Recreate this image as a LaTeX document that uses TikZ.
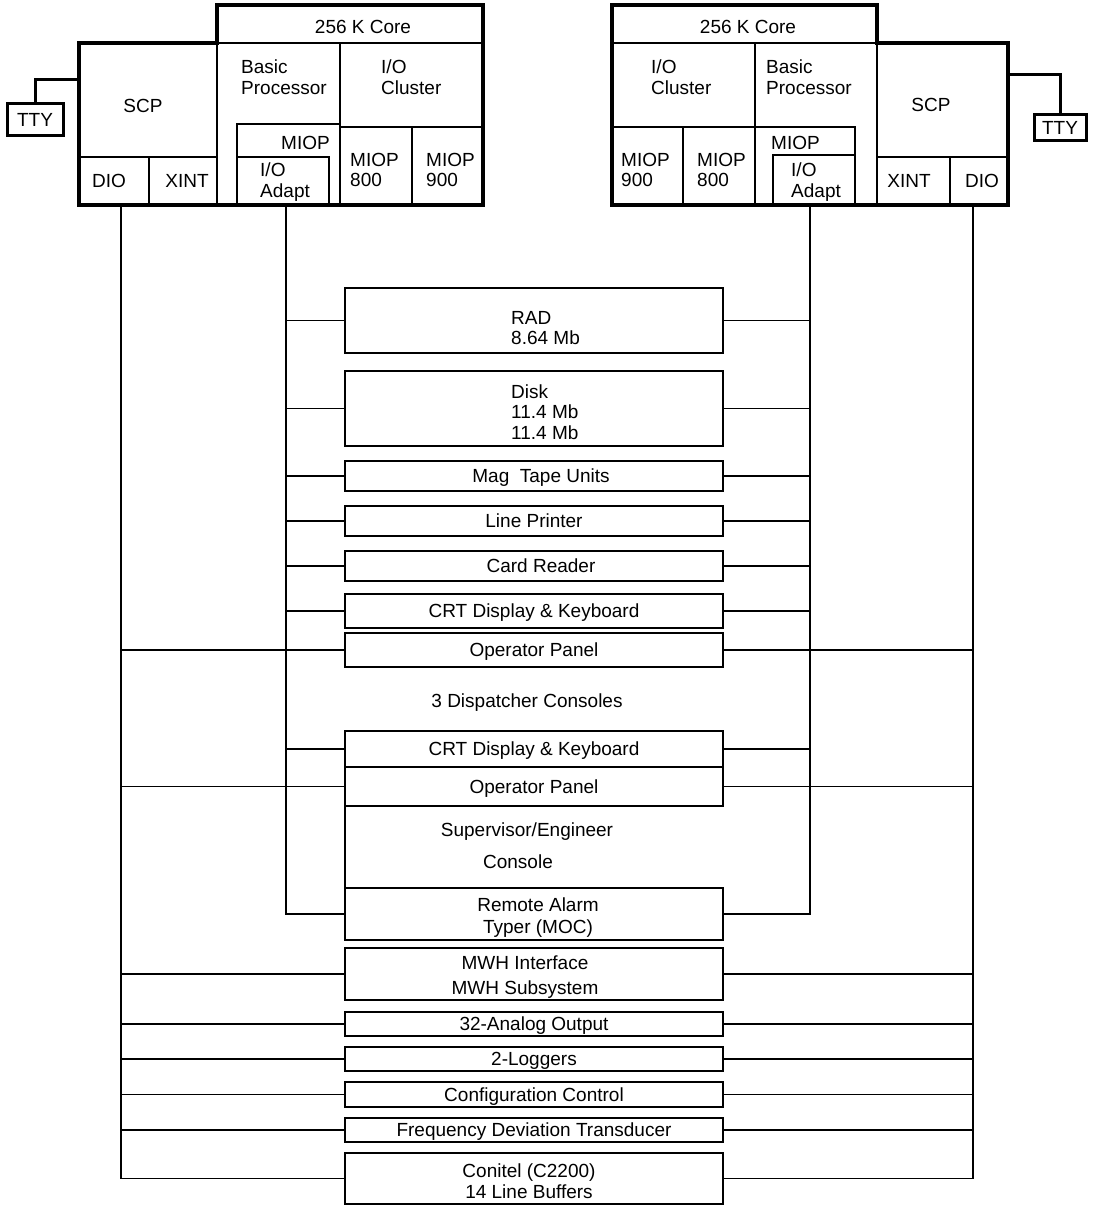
\documentclass[tikz,border=0pt]{standalone}
\usepackage{fontspec}
\setmainfont{Liberation Sans}
\newcommand\lblfont{\fontsize{19}{20.5}\selectfont}
\begin{document}
\begin{tikzpicture}[x=1pt,y=-1pt,
  cell/.style={draw, line width=2.2pt, inner sep=0pt, outer sep=0pt},
  ttybox/.style={draw, line width=3pt, inner sep=0pt, outer sep=0pt, font=\lblfont, text height=13.6pt, text depth=0pt},
  outline/.style={draw, line width=4pt, line join=miter},
  dev/.style={draw, line width=1.8pt, inner sep=0pt, outer sep=0pt, minimum width=378pt, font=\lblfont, align=center},
  one/.style={text height=17.6pt, text depth=4pt},
  devline/.style={line width=1.8pt},
  conn/.style={line width=1.6pt},
  lbl/.style={inner sep=0pt, font=\lblfont, align=left},
  clbl/.style={inner sep=0pt, font=\lblfont, align=center}]
\useasboundingbox (0,0) rectangle (1094,1206);

% ---------- left computer ----------
\node[cell, minimum width=266pt, minimum height=38pt] (lcore) at (350,24) {};
\node[cell, minimum width=138pt, minimum height=114pt] (lscp) at (148,100) {};
\node[cell, minimum width=70pt, minimum height=48pt] (ldio) at (114,181) {};
\node[cell, minimum width=68pt, minimum height=48pt] (lxint) at (183,181) {};
\node[cell, minimum width=143pt, minimum height=84pt] (lioc) at (411.5,85) {};
\node[cell, minimum width=103pt, minimum height=81pt] (lmiop) at (288.5,164.5) {};
\node[cell, minimum width=92pt, minimum height=48pt] (lioa) at (283,181) {};
\node[cell, minimum width=72pt, minimum height=78pt] (lm800) at (376,166) {};
\node[cell, minimum width=71pt, minimum height=78pt] (lm900) at (447.5,166) {};
\draw[outline] (lscp.north west) -- (lcore.south west) -- (lcore.north west) -- (lcore.north east)
  -- (lm900.south east) -- (ldio.south west) -- cycle;
\node[ttybox, minimum width=56pt, minimum height=32pt] (ltty) at (35,120) {TTY};
\coordinate (lttyc) at (79,80);
\draw[line width=3pt] (ltty.north) |- (lttyc);

\node[clbl] (tlcore) at (363,27) {256 K Core};
\node[clbl] (tlscp) at (143,106) {SCP};
\node[clbl] (tldio) at (109,181) {DIO};
\node[clbl] (tlxint) at (187,181) {XINT};
\node[lbl, anchor=west] (tlbp) at (241,77) {Basic\\Processor};
\node[lbl, anchor=west] (tlioc) at (381,77) {I/O\\Cluster};
\node[lbl, anchor=east] (tlmiop) at (330,143) {MIOP};
\node[lbl, anchor=west] (tlioa) at (260,182) {I/O\\Adapt};
\node[lbl, anchor=west] (tlm800) at (350,170) {MIOP\\800};
\node[lbl, anchor=west] (tlm900) at (426,170) {MIOP\\900};

% ---------- right computer ----------
\node[cell, minimum width=265pt, minimum height=38pt] (rcore) at (744.5,24) {};
\node[cell, minimum width=143pt, minimum height=84pt] (rioc) at (683.5,85) {};
\node[cell, minimum width=122pt, minimum height=162pt] (rbp) at (816,124) {};
\node[cell, minimum width=100pt, minimum height=78pt] (rmiop) at (805,166) {};
\node[cell, minimum width=82pt, minimum height=50pt] (rioa) at (814,180) {};
\node[cell, minimum width=71pt, minimum height=78pt] (rm900) at (647.5,166) {};
\node[cell, minimum width=72pt, minimum height=78pt] (rm800) at (719,166) {};
\node[cell, minimum width=131pt, minimum height=114pt] (rscp) at (942.5,100) {};
\node[cell, minimum width=73pt, minimum height=48pt] (rxint) at (913.5,181) {};
\node[cell, minimum width=58pt, minimum height=48pt] (rdio) at (979,181) {};
\draw[outline] (rcore.north west) -- (rcore.north east) -- (rscp.north west) -- (rscp.north east)
  -- (rdio.south east) -- (rm900.south west) -- cycle;
\node[ttybox, minimum width=52pt, minimum height=26pt] (rtty) at (1060,128) {TTY};
\coordinate (rttyc) at (1008,75);
\draw[line width=3pt] (rtty.north) |- (rttyc);

\node[clbl] (trcore) at (748,27) {256 K Core};
\node[clbl] (trscp) at (931,105) {SCP};
\node[clbl] (trxint) at (909,181) {XINT};
\node[clbl] (trdio) at (982,181) {DIO};
\node[lbl, anchor=west] (trioc) at (651,77) {I/O\\Cluster};
\node[lbl, anchor=west] (trbp) at (766,77) {Basic\\Processor};
\node[lbl, anchor=west] (trmiop) at (771,143) {MIOP};
\node[lbl, anchor=west] (trioa) at (791,182) {I/O\\Adapt};
\node[lbl, anchor=west] (trm900) at (621,170) {MIOP\\900};
\node[lbl, anchor=west] (trm800) at (697,170) {MIOP\\800};

% ---------- devices ----------
\node[dev, minimum height=65pt] (rad) at (534,320.5) {};
\node[lbl, anchor=west] (trad) at (511,328) {RAD\\8.64 Mb};
\node[dev, minimum height=75pt] (disk) at (534,408.5) {};
\node[lbl, anchor=west] (tdisk) at (511,412) {Disk\\11.4 Mb\\11.4 Mb};
\node[dev, one, minimum height=30pt] (mag) at (534,476) {\hspace*{14pt}Mag\ \ Tape Units};
\node[dev, one, minimum height=30pt] (lp) at (534,521) {Line Printer};
\node[dev, one, minimum height=30pt] (cr) at (534,566) {\hspace*{14pt}Card Reader};
\node[dev, one, minimum height=34pt] (crt1) at (534,611) {CRT Display \& Keyboard};
\node[dev, one, minimum height=34pt] (op1) at (534,650) {Operator Panel};
\node[clbl] (tdisp) at (527,703) {3 Dispatcher Consoles};
\node[dev, one, minimum height=36pt] (crt2) at (534,749) {CRT Display \& Keyboard};
\node[dev, one, minimum height=39pt] (op2) at (534,786.5) {Operator Panel};
\node[clbl] (tsup) at (527,832) {Supervisor/Engineer};
\node[clbl] (tcons) at (518,862) {Console};
\node[dev, minimum height=52pt] (ra) at (534,914) {};
\node[clbl] (tra) at (538,918) {Remote Alarm\\[1.5pt]Typer (MOC)};
\draw[devline] (op2.south west) -- (ra.north west);
\node[dev, minimum height=52pt] (mwh) at (534,974) {};
\node[clbl] (tmwh) at (525,977) {MWH Interface\\[5pt]MWH Subsystem};
\node[dev, one, minimum height=24pt] (ao) at (534,1024) {32-Analog Output};
\node[dev, one, minimum height=24pt] (log) at (534,1059) {2-Loggers};
\node[dev, one, minimum height=25pt] (cfg) at (534,1094.5) {Configuration Control};
\node[dev, one, minimum height=24pt] (freq) at (534,1130) {Frequency Deviation Transducer};
\node[dev, minimum height=51pt] (con) at (534,1178.5) {};
\node[clbl] (tcon) at (529,1181) {Conitel (C2200)\\14 Line Buffers};

% ---------- buses ----------
\coordinate (lbusD) at (121,205);
\coordinate (lbusA) at (286,205);
\coordinate (rbusA) at (810,205);
\coordinate (rbusD) at (973,205);

\draw[conn] (lbusA) |- (ra.west);
\draw[conn] (rbusA) |- (ra.east);
\draw[conn] (lbusD) |- (con.west);
\draw[conn] (rbusD) |- (con.east);

\foreach \d in {rad,disk,mag,lp,cr,crt1,crt2}{
  \draw[conn] (\d.west) -- (\d.west -| lbusA);
  \draw[conn] (\d.east) -- (\d.east -| rbusA);
}
\foreach \d in {op1,op2,mwh,ao,log,cfg,freq}{
  \draw[conn] (\d.west) -- (\d.west -| lbusD);
  \draw[conn] (\d.east) -- (\d.east -| rbusD);
}
\end{tikzpicture}
\end{document}
